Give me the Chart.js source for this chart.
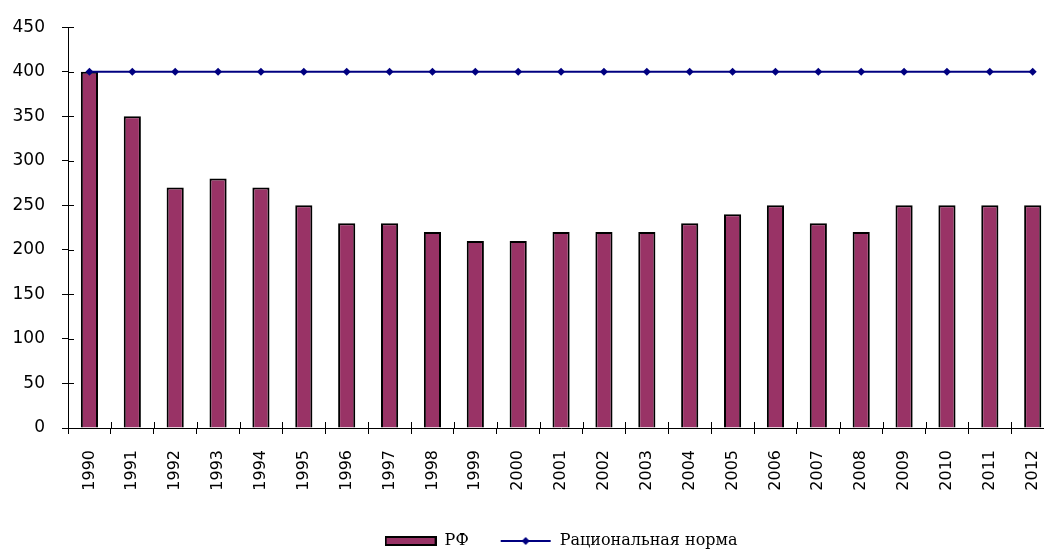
<!DOCTYPE html>
<html>
<head>
<meta charset="utf-8">
<script src="https://cdn.jsdelivr.net/npm/chart.js@4"></script>
<style>
    body { margin: 0; overflow: hidden; background: #fff; }
    #wrap { position: absolute; left: 0; top: 0; }
</style>
</head>
<body>
<div id="wrap"><canvas id="myChart" width="1068" height="559"></canvas></div>
<script>
let years = ['1990', '1991', '1992', '1993', '1994', '1995', '1996', '1997', '1998', '1999', '2000', '2001',
    '2002', '2003', '2004', '2005', '2006', '2007', '2008', '2009', '2010', '2011', '2012'];
let rfValues = [400, 350, 270, 280, 270, 250, 230, 230, 220, 210, 210, 220, 220, 220, 230, 240, 250, 230, 220, 250, 250, 250, 250];
let normValues = [400, 400, 400, 400, 400, 400, 400, 400, 400, 400, 400, 400, 400, 400, 400, 400, 400, 400, 400, 400, 400, 400, 400];
let yTicks = [0, 50, 100, 150, 200, 250, 300, 350, 400, 450];

let barColor = '#993366';
let lineColor = '#000080';

// legend symbols drawn onto small canvases
makeBarSymbol = () => {
    let c = document.createElement('canvas');
    c.width = 52; c.height = 10;
    let g = c.getContext('2d');
    g.fillStyle = barColor;
    g.fillRect(1, 1, 50, 8);
    g.lineWidth = 2;
    g.strokeStyle = '#000';
    g.strokeRect(1, 1, 50, 8);
    return c;
}

makeLineSymbol = () => {
    let c = document.createElement('canvas');
    c.width = 52; c.height = 10;
    let g = c.getContext('2d');
    g.strokeStyle = lineColor;
    g.lineWidth = 2;
    g.beginPath();
    g.moveTo(1, 5); g.lineTo(51, 5);
    g.stroke();
    g.fillStyle = lineColor;
    g.beginPath();
    g.moveTo(26, 1); g.lineTo(30, 5); g.lineTo(26, 9); g.lineTo(22, 5);
    g.closePath();
    g.fill();
    return c;
}

let barSymbol = makeBarSymbol();
let lineSymbol = makeLineSymbol();

// tick marks that cross the axis line (the library only draws the outer half)
let crossTicks = {
    id: 'crossTicks',
    afterDraw: (chart) => {
        let c = chart.ctx;
        let xs = chart.scales.x;
        let ys = chart.scales.y;
        let step = xs.getPixelForTick(1) - xs.getPixelForTick(0);
        c.save();
        c.strokeStyle = '#000';
        c.lineWidth = 1;
        c.beginPath();
        yTicks.forEach(v => {
            let y = Math.round(ys.getPixelForValue(v)) + 0.5;
            c.moveTo(xs.left, y);
            c.lineTo(xs.left + 6, y);
        });
        for (let i = 0; i < years.length; i++) {
            let x = Math.round(xs.getPixelForTick(i) + step / 2) + 0.5;
            c.moveTo(x, ys.bottom);
            c.lineTo(x, ys.bottom - 6);
        }
        c.stroke();
        c.restore();
    }
};

let ctx = document.getElementById('myChart').getContext('2d');
let myChart = new Chart(ctx, {
    type: 'bar',
    data: {
        labels: years,
        datasets: [{
            type: 'line',
            label: 'Рациональная норма',
            data: normValues,
            borderColor: lineColor,
            backgroundColor: lineColor,
            borderWidth: 2,
            pointStyle: 'rectRot',
            pointRadius: 4,
            pointBorderWidth: 0,
            pointBackgroundColor: lineColor,
            order: 0
        }, {
            label: 'РФ',
            data: rfValues,
            backgroundColor: barColor,
            borderColor: '#000',
            borderWidth: 2,
            categoryPercentage: 1,
            barPercentage: 0.4,
            order: 1
        }]
    },
    options: {
        responsive: false,
        animation: false,
        devicePixelRatio: 1,
        layout: {
            padding: { top: 26, right: 3, bottom: 0, left: 0 }
        },
        plugins: {
            tooltip: { enabled: false },
            legend: {
                position: 'bottom',
                fullSize: false,
                labels: {
                    usePointStyle: true,
                    pointStyleWidth: 52,
                    padding: 31,
                    color: '#000',
                    font: { family: '"DejaVu Serif", serif', size: 16 },
                    generateLabels: () => [
                        { text: 'РФ', pointStyle: barSymbol, datasetIndex: 1, fontColor: '#000', lineWidth: 0 },
                        { text: 'Рациональная норма', pointStyle: lineSymbol, datasetIndex: 0, fontColor: '#000', lineWidth: 0 }
                    ]
                }
            }
        },
        scales: {
            x: {
                grid: {
                    offset: true,
                    drawOnChartArea: false,
                    color: '#000',
                    tickLength: 6
                },
                border: { color: '#000', width: 1 },
                ticks: {
                    autoSkip: false,
                    minRotation: 90,
                    maxRotation: 90,
                    padding: 16,
                    color: '#000',
                    font: { family: '"DejaVu Sans", sans-serif', size: 16 }
                },
                afterFit: (scale) => { scale.height = 74; }
            },
            y: {
                min: 0,
                max: 450,
                afterBuildTicks: (scale) => { scale.ticks = yTicks.map(v => ({ value: v })); },
                grid: {
                    drawOnChartArea: false,
                    color: '#000',
                    tickLength: 6
                },
                border: { color: '#000', width: 1 },
                ticks: {
                    padding: 17,
                    color: '#000',
                    font: { family: '"DejaVu Sans", sans-serif', size: 17 }
                },
                afterFit: (scale) => { scale.width = 68; }
            }
        }
    },
    plugins: [crossTicks]
});
</script>
</body>
</html>
